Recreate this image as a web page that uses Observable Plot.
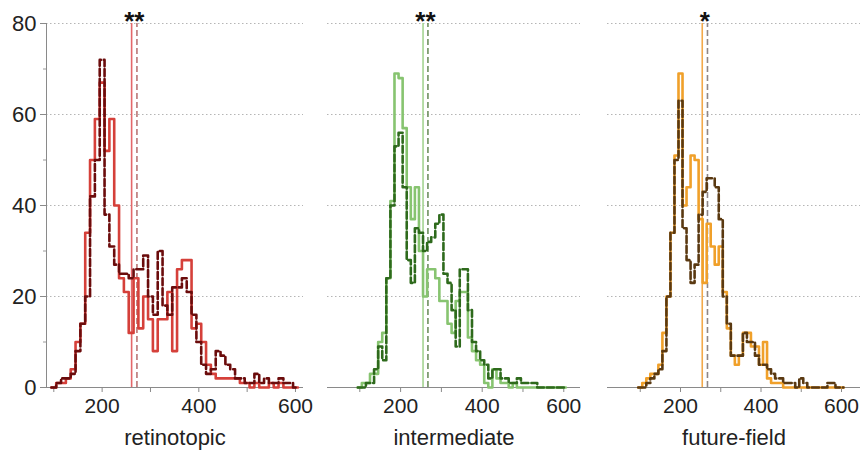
<!DOCTYPE html>
<html><head><meta charset="utf-8">
<script src="https://cdn.jsdelivr.net/npm/d3@7"></script>
<script src="https://cdn.jsdelivr.net/npm/@observablehq/plot@0.6"></script>
<style>
body{margin:0;background:#fff;}
#chart{position:relative;width:860px;height:450px;}
#chart svg{position:absolute;top:0;}
</style></head><body><div id="chart"></div>
<script>
// Bin centres (ms), bins are 10 wide
const binCenters = [100,110,120,130,140,150,160,170,180,190,200,210,220,230,240,250,260,270,280,290,300,310,320,330,340,350,360,370,380,390,400,410,420,430,440,450,460,470,480,490,500,510,520,530,540,550,560,570,580,590,600];

// retinotopic
const retSolid  = [0,1,1,2,4,10,14,34,50,59,67,52,59,40,24,21,12,24,13,20,15,8,15,15,21,8,26,28,28,13,14,10,5,3,2,2,2,2,2,1,1,0,1,0,0,1,0,1,0,0,0];
const retDashed = [0,1,2,2,3,8,14,20,42,50,72,38,31,27,25,25,24,26,26,29,20,16,30,18,16,22,22,24,21,16,10,5,3,4,8,7,5,4,2,2,1,1,3,1,2,1,1,2,1,1,0];
// intermediate
const intSolid  = [0,1,1,3,3,10,12,24,41,69,68,57,44,37,44,30,20,26,26,24,19,19,14,12,19,21,21,11,8,6,5,1,0,4,2,1,1,0,1,0,0,0,0,0,0,0,0,0,0,0,0];
const intDashed = [0,0,1,1,4,9,6,24,40,53,56,44,28,23,35,34,30,32,33,36,38,25,23,17,9,26,26,17,10,8,6,5,2,4,4,2,2,1,1,2,1,1,1,1,0,0,0,0,0,0,0];
// future-field
const ffSolid   = [0,1,2,3,3,5,12,20,34,51,69,40,44,51,50,37,23,36,31,27,31,21,13,7,5,7,12,12,9,9,5,10,2,1,1,1,0,0,0,0,0,0,0,0,0,0,0,0,0,0,0];
const ffDashed  = [0,0,1,2,3,4,8,20,34,50,63,35,28,23,27,38,43,46,46,44,37,20,14,7,7,7,12,10,10,7,5,5,4,3,2,2,1,1,1,0,2,1,0,0,0,0,0,1,1,0,0];

const medianSolid  = [261, 255, 254];
const medianDashed = [272, 267, 267];
const stars  = ["**", "**", "*"];
const titles = ["retinotopic", "intermediate", "future-field"];
const yTicks = [0, 20, 40, 60, 80];
const yMinorTicks = [10, 30, 50, 70];
const gridTicks = [20, 40, 60, 80];
const xTicks = [100, 200, 300, 400, 500, 600];
const xLabelTicks = [200, 400, 600];

const FONT = "'Liberation Sans', Arial, Helvetica, sans-serif";

function steps(counts) {
  const half = (binCenters[1] - binCenters[0]) / 2;
  const pts = [{x: binCenters[0] - half, y: 0}];
  counts.forEach((c, i) => pts.push({x: binCenters[i] - half, y: c}));
  pts.push({x: binCenters[binCenters.length - 1] + half, y: 0});
  return pts;
}

const panels = [
  {left: 0,   width: 320, ml: 46, mr: 17, domain: [84.9, 616.6], solid: retSolid, dashed: retDashed,
   cs: "#d5403a", cd: "#6b0c0c", ms: "#e4676a", md: "#b97676", yAxis: true},
  {left: 320, width: 265, ml: 7,  mr: 5,  domain: [20.8, 641],   solid: intSolid, dashed: intDashed,
   cs: "#87c470", cd: "#2e6a1c", ms: "#a4d491", md: "#6f8f60", yAxis: false},
  {left: 600, width: 260, ml: 7,  mr: 0,  domain: [18.6, 647.2], solid: ffSolid,  dashed: ffDashed,
   cs: "#f0a02a", cd: "#5a3911", ms: "#f2a94a", md: "#8e8686", yAxis: false}
];

const chart = document.getElementById("chart");

// draw right-to-left so panel 1's overhanging "600" sits on top
panels.slice().reverse().forEach((p) => {
  const i = panels.indexOf(p);
  const marks = [
    Plot.gridY(gridTicks, {stroke: "#b5b5b5", strokeOpacity: 1, strokeWidth: 1, strokeDasharray: "1.5,2.5"}),
    Plot.ruleY([0], {stroke: "#8a8a8a", strokeWidth: 1}),
    Plot.axisX(xTicks, {tickSize: 5, tickPadding: 6, stroke: "#8a8a8a", fontSize: 21, label: null,
      tickFormat: d => xLabelTicks.includes(d) ? String(d) : ""}),
    Plot.ruleX([{x: medianSolid[i]}],  {x: "x", y1: 0, y2: 80, stroke: p.ms, strokeWidth: 1.6}),
    Plot.ruleX([{x: medianDashed[i]}], {x: "x", y1: 0, y2: 80, stroke: p.md, strokeWidth: 1.6, strokeDasharray: "6,3"}),
    Plot.line(steps(p.solid),  {x: "x", y: "y", curve: "step-after", stroke: p.cs, strokeWidth: 2.6}),
    Plot.line(steps(p.dashed), {x: "x", y: "y", curve: "step-after", stroke: p.cd, strokeWidth: 2.6, strokeDasharray: "7,3"}),
    Plot.text([{x: (medianSolid[i] + medianDashed[i]) / 2, y: 80, t: stars[i]}],
      {x: "x", y: "y", text: "t", lineAnchor: "bottom", dy: 6, fontSize: 26, fontWeight: "bold", fill: "#111"}),
    Plot.text([titles[i]], {frameAnchor: "bottom", lineAnchor: "bottom", dy: 57, fontSize: 22, fill: "#222"})
  ];
  if (p.yAxis) {
    marks.push(
      Plot.ruleX([{x: p.domain[0]}], {x: "x", y1: 0, y2: 80, stroke: "#8a8a8a", strokeWidth: 1}),
      Plot.axisY(yTicks, {tickSize: 6, tickPadding: 4, stroke: "#8a8a8a", fontSize: 22, label: null}),
      Plot.axisY(yMinorTicks, {tickSize: 3, stroke: "#9a9a9a", label: null, tickFormat: () => ""})
    );
  }
  const svg = Plot.plot({
    width: p.width,
    height: 450,
    marginLeft: p.ml,
    marginRight: p.mr,
    marginTop: 23,
    marginBottom: 63,
    x: {domain: p.domain, label: null},
    y: {domain: [0, 80], label: null, axis: p.yAxis ? undefined : null},
    style: {fontFamily: FONT, fontSize: "22px", color: "#222", background: "transparent"},
    marks
  });
  svg.style.left = p.left + "px";
  chart.appendChild(svg);
});
</script>
</body></html>
